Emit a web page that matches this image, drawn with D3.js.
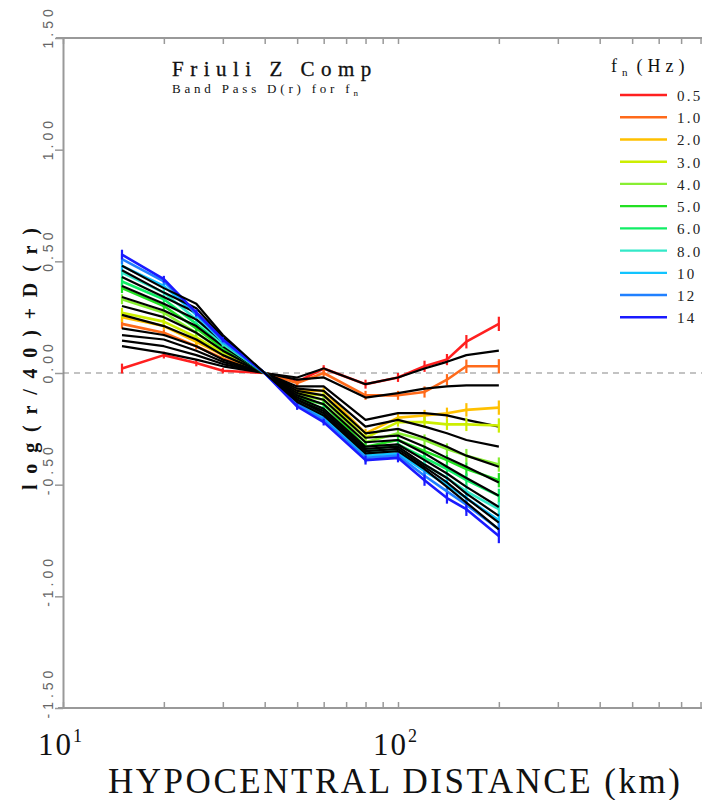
<!DOCTYPE html>
<html><head><meta charset="utf-8">
<script src="https://cdn.jsdelivr.net/npm/d3@7"></script>
<style>body{margin:0;background:#fff} svg{display:block;font-family:"Liberation Serif","DejaVu Serif",serif}</style>
</head><body>
<script>
// ---- data ----
const distances = [15, 20, 25, 30, 40, 50, 60, 80, 100, 120, 140, 160, 200];
const errors    = [0.022, 0.015, 0.015, 0.012, 0, 0.015, 0.015, 0.02, 0.02, 0.025, 0.025, 0.03, 0.032];
const freqLabels = ["0.5", "1.0", "2.0", "3.0", "4.0", "5.0", "6.0", "8.0", "10", "12", "14"];
const freqColors = ["#ff2020", "#ff6a1a", "#ffc000", "#ccee00", "#88ee33", "#22e022", "#11ee66", "#33e8c8", "#11c4ff", "#2080ff", "#1a1aff"];

// observed band-pass D(r) (coloured, with error bars)
const obs05 = [0.02, 0.08, 0.045, 0.01, 0, -0.04, 0.02, -0.05, -0.02, 0.03, 0.06, 0.14, 0.22];
const obs1  = [0.22, 0.18, 0.12, 0.065, 0, -0.045, 0.0, -0.10, -0.10, -0.085, -0.03, 0.03, 0.03];
const obs2  = [0.25, 0.21, 0.14, 0.08, 0, -0.08, -0.08, -0.27, -0.20, -0.19, -0.18, -0.165, -0.155];
const obs3  = [0.27, 0.23, 0.16, 0.09, 0, -0.09, -0.10, -0.29, -0.22, -0.22, -0.23, -0.23, -0.235];
const obs4  = [0.33, 0.27, 0.18, 0.10, 0, -0.10, -0.12, -0.31, -0.27, -0.30, -0.34, -0.37, -0.41];
const obs5  = [0.38, 0.30, 0.20, 0.11, 0, -0.11, -0.14, -0.33, -0.30, -0.35, -0.39, -0.43, -0.48];
const obs6  = [0.41, 0.33, 0.22, 0.12, 0, -0.12, -0.16, -0.35, -0.32, -0.38, -0.43, -0.48, -0.55];
const obs8  = [0.45, 0.36, 0.24, 0.13, 0, -0.13, -0.18, -0.36, -0.34, -0.41, -0.47, -0.53, -0.61];
const obs10 = [0.48, 0.39, 0.26, 0.14, 0, -0.14, -0.20, -0.37, -0.36, -0.44, -0.50, -0.56, -0.66];
const obs12 = [0.51, 0.41, 0.265, 0.145, 0, -0.14, -0.21, -0.38, -0.37, -0.46, -0.53, -0.59, -0.70];
const obs14 = [0.53, 0.42, 0.27, 0.15, 0, -0.15, -0.22, -0.39, -0.38, -0.48, -0.56, -0.61, -0.73];

// model curves (black)
const fit05 = [0.12, 0.09, 0.06, 0.03, 0, -0.02, 0.02, -0.05, -0.02, 0.02, 0.05, 0.08, 0.10];
const fit1  = [0.145, 0.12, 0.08, 0.04, 0, -0.03, -0.02, -0.11, -0.09, -0.07, -0.06, -0.055, -0.055];
const fit2  = [0.17, 0.15, 0.10, 0.05, 0, -0.06, -0.06, -0.21, -0.18, -0.18, -0.19, -0.21, -0.24];
const fit3  = [0.20, 0.17, 0.12, 0.06, 0, -0.07, -0.08, -0.24, -0.21, -0.24, -0.27, -0.30, -0.33];
const fit4  = [0.26, 0.21, 0.15, 0.08, 0, -0.08, -0.10, -0.27, -0.25, -0.29, -0.33, -0.37, -0.42];
const fit5  = [0.30, 0.25, 0.18, 0.10, 0, -0.09, -0.12, -0.29, -0.28, -0.33, -0.38, -0.42, -0.49];
const fit6  = [0.34, 0.28, 0.21, 0.12, 0, -0.10, -0.14, -0.31, -0.30, -0.36, -0.42, -0.47, -0.55];
const fit8  = [0.39, 0.31, 0.24, 0.14, 0, -0.11, -0.16, -0.33, -0.32, -0.39, -0.45, -0.51, -0.60];
const fit10 = [0.43, 0.34, 0.27, 0.15, 0, -0.12, -0.17, -0.34, -0.33, -0.41, -0.47, -0.54, -0.64];
const fit12 = [0.46, 0.36, 0.29, 0.16, 0, -0.12, -0.18, -0.35, -0.34, -0.42, -0.49, -0.56, -0.67];
const fit14 = [0.48, 0.38, 0.31, 0.17, 0, -0.13, -0.19, -0.36, -0.35, -0.43, -0.51, -0.58, -0.70];

const yTickValues = [-1.5, -1, -0.5, 0, 0.5, 1, 1.5];
const yTickLabels = ["-1.50", "-1.00", "-0.50", "0.00", "0.50", "1.00", "1.50"];
const xMajorTicks = [10, 100];
const xMajorExp = ["1", "2"];

const observed = [obs05, obs1, obs2, obs3, obs4, obs5, obs6, obs8, obs10, obs12, obs14];
const fitted   = [fit05, fit1, fit2, fit3, fit4, fit5, fit6, fit8, fit10, fit12, fit14];

// ---- drawing ----
const W = 702, H = 800;
const svg = d3.select("body").append("svg").attr("width", W).attr("height", H);

// log axis 10..1000 (two decades of 335 px); the right part lies beyond the picture edge
const x = d3.scaleLog().domain([10, 1000]).range([63, 733]);
const y = d3.scaleLinear().domain([-1.5, 1.5]).range([708, 38]);
const axisColor = "#999";

const minorTicks = [];
[10, 100].forEach(dec => { for (let k = 2; k <= 9; k++) minorTicks.push(dec * k); });

const gB = svg.append("g").attr("transform", `translate(0,${y(-1.5)})`)
  .call(d3.axisBottom(x).tickValues(minorTicks.concat(xMajorTicks)).tickSize(-6).tickSizeOuter(0).tickFormat(""));
const gT = svg.append("g").attr("transform", `translate(0,${y(1.5)})`)
  .call(d3.axisTop(x).tickValues(minorTicks.concat(xMajorTicks)).tickSize(-6).tickSizeOuter(0).tickFormat(""));
const gL = svg.append("g").attr("transform", `translate(${x(10)},0)`)
  .call(d3.axisLeft(y).tickValues(yTickValues).tickSize(8).tickSizeOuter(0).tickFormat(""));
[gB, gT, gL].forEach(g => {
  g.select(".domain").attr("stroke", axisColor).attr("stroke-width", 2);
  g.selectAll(".tick line").attr("stroke", axisColor).attr("stroke-width", 1.5);
});
gB.select(".domain").attr("d", `M58,0H${W}`);
gT.select(".domain").attr("d", `M56,0H${W}`);

gL.selectAll(".tick").append("text")
  .attr("transform", "rotate(-90)")
  .attr("x", -10).attr("y", -10)
  .attr("text-anchor", "start")
  .attr("fill", "#666").attr("font-size", 14).attr("letter-spacing", 4)
  .text(d => yTickLabels[yTickValues.indexOf(d)]);

xMajorTicks.forEach((v, i) => {
  const t = svg.append("text")
    .attr("x", x(v) - 2).attr("y", 755)
    .attr("text-anchor", "middle").attr("font-size", 31).attr("letter-spacing", 2).attr("fill", "#111");
  t.append("tspan").text("10");
  t.append("tspan").attr("font-size", 18).attr("dy", -13).text(xMajorExp[i]);
});

svg.append("text").attr("x", 108).attr("y", 793)
  .attr("font-size", 35).attr("textLength", 572).attr("lengthAdjust", "spacing")
  .attr("fill", "#111").text("HYPOCENTRAL DISTANCE (km)");
svg.append("text").attr("transform", "translate(37,490) rotate(-90)")
  .attr("font-size", 20).attr("font-weight", "bold").attr("textLength", 262).attr("lengthAdjust", "spacing")
  .attr("fill", "#111").text("log(r/40)+D(r)");

svg.append("line").attr("x1", x(10)).attr("x2", W).attr("y1", y(0)).attr("y2", y(0))
  .attr("stroke", "#888").attr("stroke-width", 1.2).attr("stroke-dasharray", "6,5");

const line = d3.line().x((d, i) => x(distances[i])).y(d => y(d));
observed.forEach((vals, s) => {
  const g = svg.append("g");
  g.append("path").datum(vals).attr("d", line).attr("fill", "none")
    .attr("stroke", freqColors[s]).attr("stroke-width", 2.6).attr("stroke-linejoin", "round");
  distances.forEach((dist, i) => {
    if (errors[i] <= 0) return;
    g.append("line").attr("x1", x(dist)).attr("x2", x(dist))
      .attr("y1", y(vals[i] - errors[i])).attr("y2", y(vals[i] + errors[i]))
      .attr("stroke", freqColors[s]).attr("stroke-width", 2.2);
  });
  svg.append("path").datum(fitted[s]).attr("d", line).attr("fill", "none")
    .attr("stroke", "#000").attr("stroke-width", 2.2).attr("stroke-linejoin", "round");
});

svg.append("text").attr("x", 172).attr("y", 76).attr("font-size", 21).attr("letter-spacing", 6.5)
  .attr("fill", "#111").attr("stroke", "#111").attr("stroke-width", 0.3).text("Friuli Z Comp");
const sub = svg.append("text").attr("x", 172).attr("y", 93).attr("font-size", 13).attr("letter-spacing", 3.8).attr("fill", "#111");
sub.append("tspan").text("Band Pass D(r) for f");
sub.append("tspan").attr("font-size", 9).attr("dy", 3).text("n");

const legY = d3.scalePoint().domain(freqLabels).range([95, 317.3]);
const hdr = svg.append("text").attr("x", 611).attr("y", 72).attr("font-size", 18).attr("letter-spacing", 5).attr("fill", "#111");
hdr.append("tspan").text("f");
hdr.append("tspan").attr("font-size", 11).attr("dy", 4).text("n");
hdr.append("tspan").attr("dy", -4).attr("dx", 4).text("(Hz)");
const leg = svg.append("g").selectAll("g").data(freqLabels).enter().append("g");
leg.append("line").attr("x1", 620).attr("x2", 667)
  .attr("y1", d => legY(d)).attr("y2", d => legY(d))
  .attr("stroke", (d, i) => freqColors[i]).attr("stroke-width", 2.4);
leg.append("text").attr("x", 677).attr("y", d => legY(d) + 6)
  .attr("font-size", 15).attr("letter-spacing", 2.3).attr("fill", "#222").text(d => d);
</script>
</body></html>
